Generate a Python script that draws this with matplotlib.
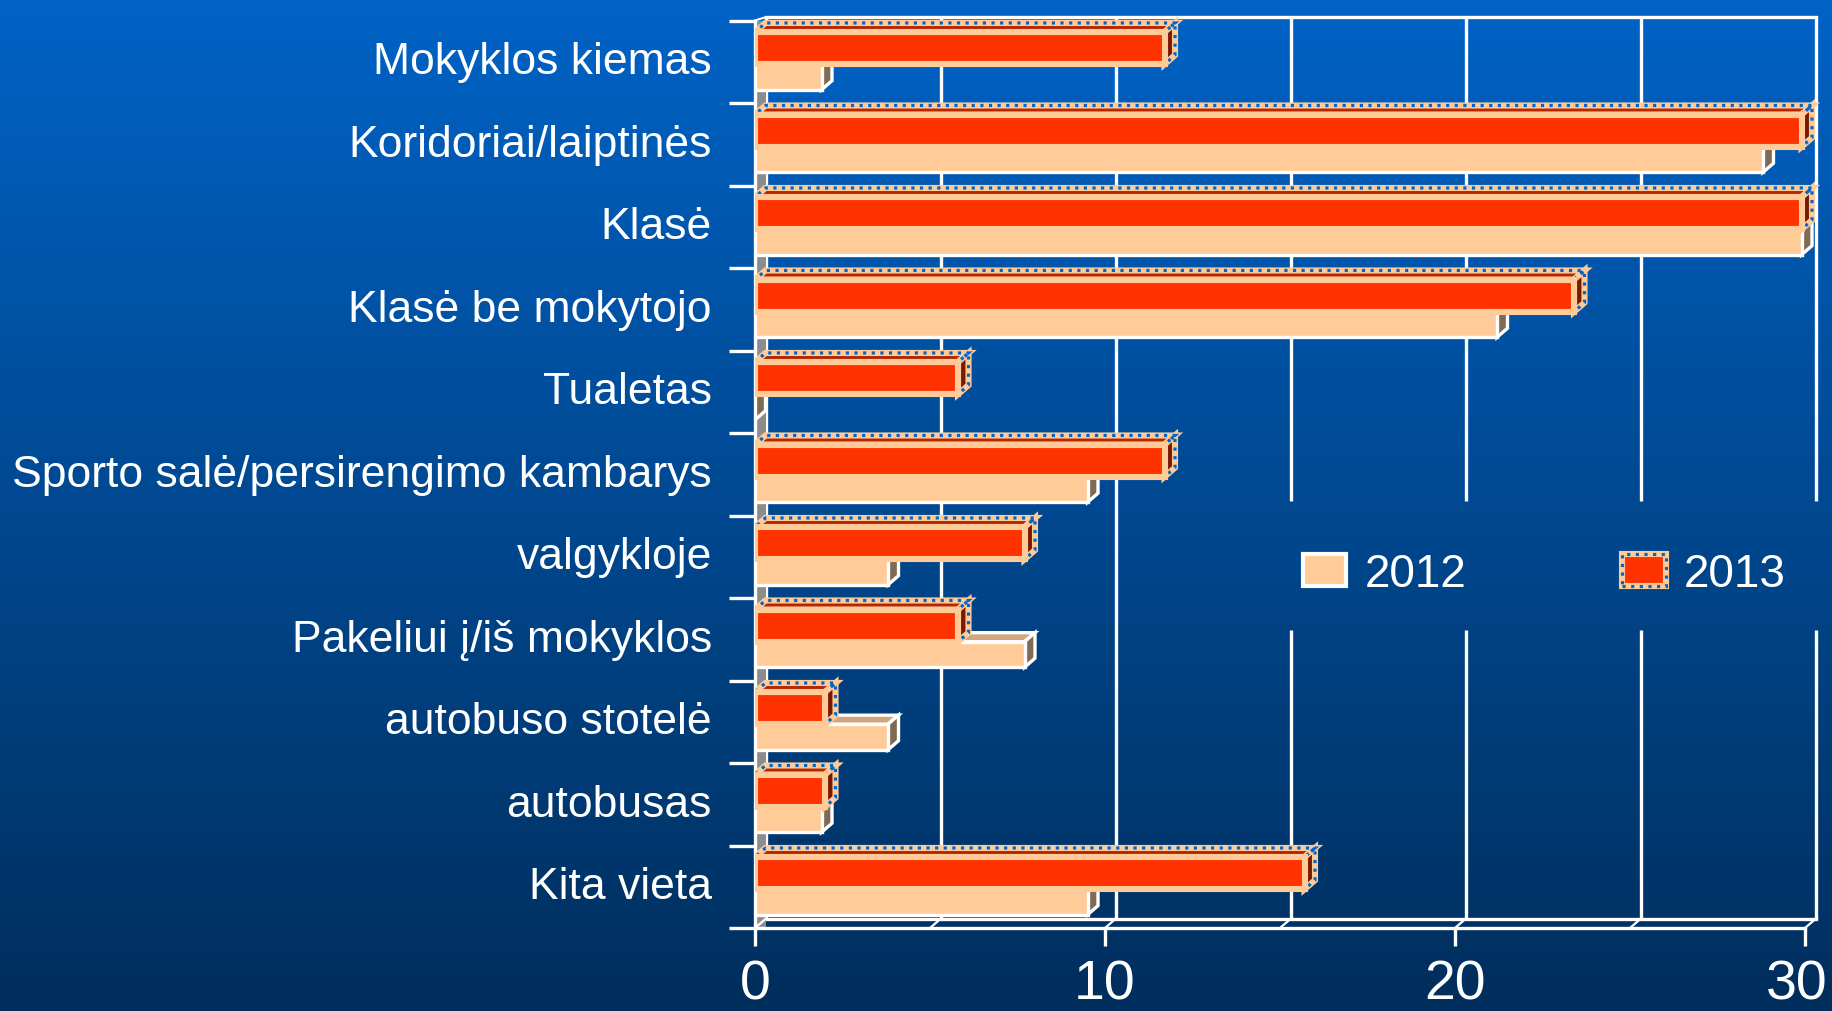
import numpy as np
import matplotlib
matplotlib.use('Agg')
import matplotlib.pyplot as plt
from matplotlib.patches import Polygon, Patch
from matplotlib.legend_handler import HandlerTuple
import matplotlib.transforms as mtransforms

# ---------------- data ----------------
categories = ["Mokyklos kiemas", "Koridoriai/laiptinės", "Klasė", "Klasė be mokytojo",
              "Tualetas", "Sporto salė/persirengimo kambarys", "valgykloje",
              "Pakeliui į/iš mokyklos", "autobuso stotelė", "autobusas", "Kita vieta"]
values_2012 = [1.9, 28.8, 29.9, 21.2, 0.0, 9.5, 3.8, 7.7, 3.8, 1.9, 9.5]
values_2013 = [11.7, 29.9, 29.9, 23.4, 5.8, 11.7, 7.7, 5.8, 2.0, 2.0, 15.7]
series_labels = ["2012", "2013"]
x_ticks = [0, 10, 20, 30]

# ---------------- style ----------------
WHITE = "white"
TAN = "#FFCC99"
TAN_TOP = "#D2A67C"
TAN_SIDE = "#7F6A55"
RED = "#FF3300"
RED_TOP = "#B82600"
RED_SIDE = "#7A1800"
BLUE = "#0066CC"
GREY = "#8C8C8C"
FONT = ["Liberation Sans", "DejaVu Sans"]
plt.rcParams['font.family'] = FONT

DX = 0.3    # depth offset (x units)
DY = 0.11   # depth offset (slot units)
EDGE = 4.4  # tan border width for 2013 faces
DOTW = 2.3
DOTS = (0, (1, 1.7))

fig = plt.figure(figsize=(18.32, 10.12), dpi=100)

# gradient background
bg = fig.add_axes([0, 0, 1, 1], zorder=-5)
top = np.array([0, 99, 198]) / 255.0
bot = np.array([0, 46, 92]) / 255.0
t = np.linspace(0, 1, 256)[:, None]
grad = (top[None, :] * (1 - t) + bot[None, :] * t)[:, None, :]
bg.imshow(grad, aspect='auto', extent=[0, 1, 0, 1], interpolation='bilinear')
bg.axis('off')

W, H = 1832.0, 1012.0
x0_px, ppu = 755.0, 35.0
xmax = 30.45
ytop, ybot = -0.08, 11.0
slot_px = 82.5
bottom_px = 929.0
top_px = bottom_px - (ybot - ytop) * slot_px
ax = fig.add_axes([x0_px / W, (H - bottom_px) / H, xmax * ppu / W, (bottom_px - top_px) / H])
ax.patch.set_alpha(0)
ax.set_xlim(0, xmax)
ax.set_ylim(ybot, ytop)
for s in ax.spines.values():
    s.set_visible(False)

lw_line = 2.4

# back wall gridlines
for k in range(7):
    gx = 5 * k + DX
    if k >= 3:
        segs = [(-0.04, 5.83), (7.39, 11 - DY)]
    else:
        segs = [(-0.04, 11 - DY)]
    for (ya, yb) in segs:
        ax.plot([gx, gx], [ya, yb], color=WHITE, lw=lw_line, zorder=1, solid_capstyle='butt')
ax.plot([DX, 30 + DX], [-0.04, -0.04], color=WHITE, lw=lw_line, zorder=1, clip_on=False)
ax.plot([DX, 30 + DX], [11 - DY, 11 - DY], color=WHITE, lw=lw_line, zorder=1)
# left wall
ax.fill_between([0, DX], [0, 0], [11, 11], color=GREY, zorder=1.5, lw=0)
ax.plot([0, 0], [0, 11], color=WHITE, lw=lw_line, zorder=1.6, clip_on=False)
ax.plot([0, DX], [0, -0.04], color=WHITE, lw=1.5, zorder=1.6, clip_on=False)
# floor front line and slanted marks
ax.plot([0, 30], [11, 11], color=WHITE, lw=lw_line, zorder=5, clip_on=False)
for k in range(7):
    ax.plot([5 * k, 5 * k + DX], [11, 11 - DY], color=WHITE, lw=1.6, zorder=5, clip_on=False)


def face(pts, fc, ec, lw, z, dotted=False):
    ax.add_patch(Polygon(pts, closed=True, facecolor=fc, edgecolor=ec, linewidth=lw,
                         zorder=z, joinstyle='miter'))
    if dotted:
        ax.add_patch(Polygon(pts, closed=True, fill=False, edgecolor=BLUE, linewidth=DOTW,
                             linestyle=DOTS, zorder=z + 0.01, joinstyle='miter'))


for i, (v12, v13) in enumerate(zip(values_2012, values_2013)):
    # 2012 bar (lower)
    c, d = i + 0.53, i + 0.84
    face([(0, c), (v12, c), (v12 + DX, c - DY), (DX, c - DY)], TAN_TOP, WHITE, 2.4, 3.0)
    face([(v12, c), (v12 + DX, c - DY), (v12 + DX, d - DY), (v12, d)], TAN_SIDE, WHITE, 2.4, 3.0)
    ax.barh(c, v12, height=d - c, align='edge', left=0, color=TAN, edgecolor=WHITE,
            linewidth=2.4, zorder=3.1)
    # 2013 bar (upper)
    a, b = i + 0.14, i + 0.53
    face([(0, a), (v13, a), (v13 + DX, a - DY), (DX, a - DY)], RED_TOP, TAN, EDGE, 4.0, dotted=True)
    face([(v13, a), (v13 + DX, a - DY), (v13 + DX, b - DY), (v13, b)], RED_SIDE, TAN, EDGE, 4.0, dotted=True)
    bars = ax.barh(a, v13, height=b - a, align='edge', left=0, color=RED, edgecolor=TAN,
                   linewidth=EDGE, zorder=4.1)
    for r in bars:
        ax.add_patch(Polygon(r.get_verts(), closed=True, fill=False, edgecolor=BLUE,
                             linewidth=DOTW, linestyle=DOTS, zorder=4.2))

# ticks
ax.set_yticks(np.arange(12))
ax.tick_params(axis='y', length=19, width=lw_line, color=WHITE, labelleft=False, direction='out')
ax.set_xticks(x_ticks)
ax.set_xticklabels([str(v) for v in x_ticks])
ax.tick_params(axis='x', length=13, width=lw_line, color=WHITE, labelcolor=WHITE,
               labelsize=40, pad=9, direction='out')
# keep the last tick label inside the figure edge
last = ax.get_xticklabels()[-1]
last.set_transform(last.get_transform() +
                   mtransforms.ScaledTranslation(-0.08, 0, fig.dpi_scale_trans))

# category labels
trans = mtransforms.blended_transform_factory(ax.transAxes, ax.transData)
lab_x = (712.0 - x0_px) / (xmax * ppu)
for i, cat in enumerate(categories):
    ax.text(lab_x, i + 0.50, cat, transform=trans, ha='right', va='center',
            fontsize=32, color=WHITE)

# legend
h12 = Patch(facecolor=TAN, edgecolor=WHITE, linewidth=3)
h13a = Patch(facecolor=RED, edgecolor=TAN, linewidth=EDGE)
h13b = Patch(facecolor='none', edgecolor=BLUE, linewidth=DOTW, linestyle=DOTS)
leg = ax.legend([h12, (h13a, h13b)], series_labels,
                handler_map={tuple: HandlerTuple(ndivide=1, pad=0)},
                loc='center', bbox_to_anchor=(0.843, 0.432), bbox_transform=fig.transFigure,
                ncol=2, frameon=False, fontsize=33, handlelength=0.95, handleheight=0.7,
                handletextpad=0.4, columnspacing=3.4, labelcolor=WHITE)
leg.set_zorder(10)

fig.savefig("out.png", dpi=100)
